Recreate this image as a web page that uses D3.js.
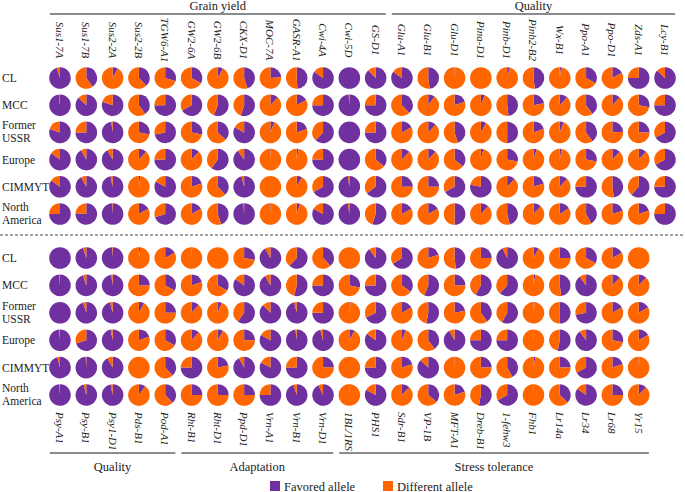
<!DOCTYPE html>
<html>
<head>
<meta charset="utf-8">
<script src="https://cdn.jsdelivr.net/npm/d3@7"></script>
<style>
  body { margin: 0; background: #fff; }
</style>
</head>
<body>
<script>
const width = 685, height = 492;

const regions = ["CL", "MCC", "Former USSR", "Europe", "CIMMYT", "North America"];

const topGenes = ["Sus1-7A", "Sus1-7B", "Sus2-2A", "Sus2-2B", "TGW6-A1", "GW2-6A", "GW2-6B",
    "CKX-D1", "MOC-7A", "GASR-A1", "Cwi-4A", "Cwi-5D", "GS-D1",
    "Glu-A1", "Glu-B1", "Glu-D1", "Pina-D1", "Pinb-D1", "Pinb2-B2", "Wx-B1", "Ppo-A1", "Ppo-D1", "Zds-A1", "Lcy-B1"];

const bottomGenes = ["Psy-A1", "Psy-B1", "Psy1-D1", "Pds-B1", "Pod-A1",
    "Rht-B1", "Rht-D1", "Ppd-D1", "Vrn-A1", "Vrn-B1", "Vrn-D1",
    "1BL/1RS", "PHS1", "Sdr-B1", "VP-1B", "MFT-A1", "Dreb-B1", "1-fehw3", "Fhb1", "Lr14a", "Lr34", "Lr68", "Yr15"];

const topGroups = [
    { name: "Grain yield", first: "Sus1-7A", last: "GS-D1" },
    { name: "Quality", first: "Glu-A1", last: "Lcy-B1" }
];
const bottomGroups = [
    { name: "Quality", first: "Psy-A1", last: "Pod-A1" },
    { name: "Adaptation", first: "Rht-B1", last: "Vrn-D1" },
    { name: "Stress tolerance", first: "1BL/1RS", last: "Yr15" }
];

// share of favored allele, one row per region
const topFavored = [
    [0.95, 0.40, 0.08, 0.38, 0.30, 0.33, 0.08, 0.45, 0.24, 0.49, 0.85, 1.00, 0.88, 0.85, 0.48, 0.01, 0.00, 0.04, 0.48, 0.02, 0.33, 0.17, 0.75, 0.87],
    [0.98, 0.87, 0.80, 0.40, 0.75, 0.67, 0.56, 0.55, 0.12, 0.17, 0.75, 0.99, 0.75, 0.38, 0.10, 0.20, 0.06, 0.48, 0.22, 0.12, 0.40, 0.12, 0.28, 0.75],
    [0.80, 0.75, 0.98, 0.28, 0.72, 0.28, 0.37, 0.83, 0.06, 0.20, 0.62, 1.00, 0.75, 0.17, 0.12, 0.45, 0.08, 0.50, 0.20, 0.06, 0.40, 0.24, 0.25, 0.67],
    [0.85, 0.92, 0.92, 0.12, 0.75, 0.12, 0.60, 0.90, 0.01, 0.03, 0.75, 1.00, 0.36, 0.12, 0.12, 0.36, 0.04, 0.28, 0.05, 0.03, 0.28, 0.12, 0.12, 0.67],
    [0.85, 0.92, 0.97, 0.02, 0.83, 0.20, 0.38, 0.96, 0.00, 0.08, 0.67, 0.98, 0.65, 0.25, 0.25, 0.67, 0.78, 0.12, 0.20, 0.12, 0.75, 0.48, 0.62, 0.75],
    [0.75, 0.76, 0.99, 0.17, 0.70, 0.17, 0.45, 0.99, 0.01, 0.05, 0.83, 0.98, 0.55, 0.17, 0.17, 0.50, 0.12, 0.46, 0.12, 0.16, 0.42, 0.20, 0.20, 0.75]
];

const bottomFavored = [
    [1.00, 0.95, 0.99, 0.02, 0.17, 0.01, 0.00, 0.28, 0.92, 0.62, 0.38, 0.00, 0.90, 0.66, 0.20, 0.48, 0.25, 0.93, 0.08, 0.25, 0.33, 0.17, 0.00],
    [0.99, 0.95, 0.98, 0.25, 0.33, 0.20, 0.33, 0.85, 0.92, 0.54, 0.75, 0.28, 0.75, 0.35, 0.56, 0.25, 0.58, 0.62, 0.03, 0.48, 0.90, 0.12, 0.12],
    [1.00, 0.95, 0.96, 0.08, 0.25, 0.12, 0.06, 0.60, 0.88, 0.96, 0.75, 0.02, 0.68, 0.17, 0.53, 0.22, 0.40, 0.58, 0.02, 0.50, 0.72, 0.17, 0.17],
    [0.99, 0.70, 0.97, 0.20, 0.33, 0.12, 0.08, 0.25, 0.83, 0.98, 0.96, 0.08, 0.85, 0.06, 0.40, 0.92, 0.75, 0.75, 0.01, 0.53, 0.90, 0.28, 0.17],
    [0.96, 0.99, 0.92, 0.00, 0.38, 0.75, 0.22, 0.92, 0.83, 0.75, 0.25, 0.00, 0.75, 0.20, 0.87, 0.01, 0.25, 0.42, 0.03, 0.25, 0.67, 0.20, 0.01],
    [0.99, 0.96, 0.97, 0.10, 0.38, 0.25, 0.25, 0.25, 0.75, 0.95, 0.93, 0.01, 0.83, 0.12, 0.36, 0.20, 0.53, 0.67, 0.01, 0.37, 0.85, 0.25, 0.12]
];

const alleles = ["Favored allele", "Different allele"];
const color = d3.scaleOrdinal().domain(alleles).range(["#7030a0", "#ff6600"]);

const svg = d3.select("body").append("svg")
    .attr("width", width)
    .attr("height", height)
    .attr("font-family", "'Liberation Serif', 'DejaVu Serif', serif")
    .style("font-family", "'Liberation Serif', 'DejaVu Serif', serif");

const xTop = d3.scalePoint().domain(topGenes).range([60, 665]);
const xBot = d3.scalePoint().domain(bottomGenes).range([60, 60 + (bottomGenes.length - 1) * xTop.step()]);
const yTop = d3.scalePoint().domain(regions).range([78, 214]);
const yBot = d3.scalePoint().domain(regions).range([258, 395]);

const pie = d3.pie().sort(null).value(d => d.value);
const arc = d3.arc().innerRadius(0).outerRadius(10.8);

function drawPanel(genes, favored, x, y) {
    const cells = [];
    regions.forEach((r, i) => {
        genes.forEach((g, j) => {
            cells.push({ region: r, gene: g, fav: favored[i][j] });
        });
    });
    const cell = svg.append("g").selectAll("g.pie")
        .data(cells)
        .enter().append("g")
        .attr("class", "pie")
        .attr("transform", d => `translate(${x(d.gene)},${y(d.region)})`);

    cell.selectAll("path")
        .data(d => pie([{ key: alleles[0], value: d.fav }, { key: alleles[1], value: 1 - d.fav }]))
        .enter().append("path")
        .attr("d", arc)
        .attr("fill", d => color(d.data.key));

    // region names
    const lab = svg.append("g").selectAll("text.region")
        .data(regions)
        .enter().append("text")
        .attr("class", "region")
        .attr("fill", "#222")
        .attr("font-size", 11.5);
    lab.each(function (r) {
        const words = r.split(" ");
        const t = d3.select(this);
        if (words.length == 1) {
            t.append("tspan").attr("x", 2).attr("y", y(r) + 4).text(r);
        } else {
            words.forEach((w, k) => {
                t.append("tspan").attr("x", 2).attr("y", y(r) - 3 + k * 13).text(w);
            });
        }
    });
}

drawPanel(topGenes, topFavored, xTop, yTop);
drawPanel(bottomGenes, bottomFavored, xBot, yBot);

// gene labels
svg.append("g").selectAll("text")
    .data(topGenes)
    .enter().append("text")
    .attr("transform", d => `translate(${xTop(d) - 4},40) rotate(90)`)
    .attr("text-anchor", "middle")
    .attr("font-style", "italic")
    .attr("font-size", 11)
    .attr("fill", "#222")
    .text(d => d);

svg.append("g").selectAll("text")
    .data(bottomGenes)
    .enter().append("text")
    .attr("transform", d => `translate(${xBot(d) - 4},412) rotate(90)`)
    .attr("text-anchor", "start")
    .attr("font-style", "italic")
    .attr("font-size", 11)
    .attr("fill", "#222")
    .text(d => d);

// group brackets
function drawGroups(groups, x, lineY, textY) {
    const pad = x.step() / 2 - 3;
    const g = svg.append("g").selectAll("g")
        .data(groups)
        .enter().append("g");
    g.append("line")
        .attr("x1", d => x(d.first) - pad)
        .attr("x2", d => x(d.last) + pad)
        .attr("y1", lineY)
        .attr("y2", lineY)
        .attr("stroke", "#666")
        .attr("stroke-width", 1.5);
    g.append("text")
        .attr("x", d => (x(d.first) + x(d.last)) / 2)
        .attr("y", textY)
        .attr("text-anchor", "middle")
        .attr("font-size", 12.5)
        .attr("fill", "#222")
        .text(d => d.name);
}
drawGroups(topGroups, xTop, 14, 10);
drawGroups(bottomGroups, xBot, 453, 471);

// divider
svg.append("line")
    .attr("x1", 0).attr("x2", width)
    .attr("y1", 235).attr("y2", 235)
    .attr("stroke", "#444")
    .attr("stroke-dasharray", "3,2");

// legend
const legend = svg.append("g").selectAll("g")
    .data(alleles)
    .enter().append("g")
    .attr("transform", (d, i) => `translate(${i == 0 ? 270 : 383},481)`);
legend.append("rect")
    .attr("width", 10).attr("height", 10)
    .attr("fill", d => color(d));
legend.append("text")
    .attr("x", 14).attr("y", 9.5)
    .attr("font-size", 12.5)
    .attr("fill", "#222")
    .text(d => d);
</script>
</body>
</html>
